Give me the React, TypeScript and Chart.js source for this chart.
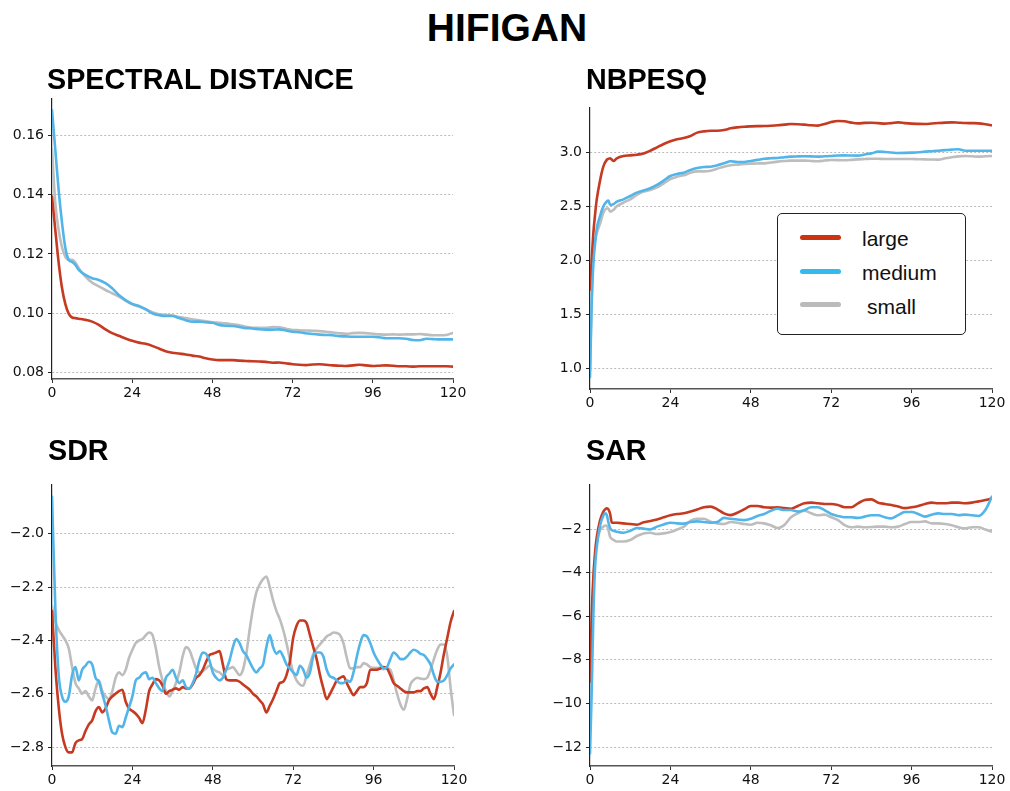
import React, { useEffect, useRef } from 'react';
import { Chart, registerables } from 'chart.js';

Chart.register(...registerables);

// ---------- data ----------
const SERIES = ['large', 'medium', 'small'];
const LINE_COLORS = ['#c53a20', '#52b5e9', '#bdbdbd'];
const LEGEND_COLORS = ['#cc3311', '#33bbee', '#bbbbbb'];
const DRAW_ORDER = [1, 0, 2];

const X_TICKS = [0, 24, 48, 72, 96, 120];
const X_LABELS = ['0', '24', '48', '72', '96', '120'];

// SPECTRAL DISTANCE
const specX = [0, 1, 2, 3, 4, 5, 6, 7, 8, 10, 12, 14, 16, 18, 20, 22, 24, 26, 28, 30, 32, 34, 36, 38, 40, 42, 44, 46, 48, 50, 52, 54, 56, 58, 60, 62, 64, 66, 68, 70, 72, 74, 76, 78, 80, 82, 84, 86, 88, 90, 92, 94, 96, 98, 100, 102, 104, 106, 108, 110, 112, 114, 116, 118, 120];
const specLarge = [0.1394, 0.128, 0.117, 0.1085, 0.103, 0.0998, 0.0985, 0.0983, 0.0981, 0.0977, 0.0971, 0.096, 0.0945, 0.0932, 0.0923, 0.0914, 0.0906, 0.09, 0.0896, 0.0889, 0.088, 0.0871, 0.0866, 0.0863, 0.086, 0.0856, 0.0853, 0.0847, 0.0843, 0.0841, 0.0841, 0.0841, 0.0839, 0.0838, 0.0837, 0.0836, 0.0835, 0.0832, 0.0833, 0.083, 0.0827, 0.0825, 0.0824, 0.0826, 0.0827, 0.0825, 0.0823, 0.0822, 0.0821, 0.0823, 0.0825, 0.0823, 0.0821, 0.0822, 0.0823, 0.0822, 0.082, 0.082, 0.0819, 0.082, 0.082, 0.082, 0.082, 0.082, 0.0819];
const specMedium = [0.1687, 0.155, 0.1415, 0.1305, 0.122, 0.118, 0.1173, 0.1163, 0.1146, 0.1129, 0.1118, 0.1112, 0.1101, 0.1084, 0.1061, 0.1044, 0.1031, 0.1024, 0.1013, 0.0999, 0.0993, 0.099, 0.099, 0.0983, 0.0976, 0.0971, 0.0971, 0.0969, 0.0967, 0.096, 0.0957, 0.0956, 0.0953, 0.0949, 0.0948, 0.0945, 0.0944, 0.0944, 0.0945, 0.0941, 0.0937, 0.0935, 0.0932, 0.0929, 0.0927, 0.0926, 0.0925, 0.0922, 0.0921, 0.092, 0.092, 0.092, 0.092, 0.0918, 0.0915, 0.0915, 0.0915, 0.0913, 0.0909, 0.0908, 0.0913, 0.0912, 0.0911, 0.0911, 0.0911];
const specSmall = [0.1555, 0.137, 0.128, 0.1222, 0.119, 0.118, 0.118, 0.1171, 0.1152, 0.1123, 0.1103, 0.109, 0.1078, 0.1067, 0.1056, 0.1042, 0.103, 0.1022, 0.1013, 0.1003, 0.0996, 0.0994, 0.0992, 0.0987, 0.0983, 0.0979, 0.0976, 0.0972, 0.0969, 0.0967, 0.0965, 0.0962, 0.0959, 0.0954, 0.095, 0.095, 0.095, 0.0953, 0.0952, 0.0947, 0.0943, 0.0942, 0.0941, 0.094, 0.0939, 0.0937, 0.0934, 0.0932, 0.093, 0.0932, 0.0933, 0.0932, 0.093, 0.0928, 0.0927, 0.0928, 0.0927, 0.0928, 0.0928, 0.0929, 0.0927, 0.0925, 0.0925, 0.0926, 0.0933];
const specTicks = [0.08, 0.1, 0.12, 0.14, 0.16];
const specLabels = ['0.08', '0.10', '0.12', '0.14', '0.16'];

// NBPESQ
const pesqX = [0, 0.5, 1, 1.5, 2, 3, 4, 5, 5.5, 6, 7, 8, 10, 12, 14, 16, 18, 20, 22, 24, 26, 28, 30, 32, 34, 36, 38, 40, 42, 44, 46, 48, 50, 52, 54, 56, 58, 60, 62, 64, 66, 68, 70, 72, 74, 76, 78, 80, 82, 84, 86, 88, 90, 92, 94, 96, 98, 100, 102, 104, 106, 108, 110, 112, 114, 116, 118, 120];
const pesqLarge = [1.73, 2.0, 2.25, 2.42, 2.56, 2.74, 2.87, 2.93, 2.94, 2.945, 2.92, 2.945, 2.966, 2.972, 2.978, 2.99, 3.015, 3.046, 3.077, 3.102, 3.12, 3.132, 3.151, 3.182, 3.194, 3.2, 3.2, 3.206, 3.222, 3.231, 3.237, 3.24, 3.242, 3.243, 3.246, 3.25, 3.256, 3.262, 3.26, 3.256, 3.25, 3.247, 3.262, 3.28, 3.29, 3.287, 3.275, 3.268, 3.272, 3.274, 3.27, 3.265, 3.27, 3.277, 3.27, 3.265, 3.263, 3.262, 3.266, 3.271, 3.275, 3.277, 3.274, 3.271, 3.27, 3.268, 3.26, 3.25];
const pesqMedium = [0.92, 1.6, 1.97, 2.15, 2.29, 2.41, 2.5, 2.545, 2.553, 2.513, 2.52, 2.544, 2.565, 2.596, 2.627, 2.646, 2.667, 2.698, 2.738, 2.781, 2.8, 2.812, 2.837, 2.855, 2.864, 2.867, 2.88, 2.898, 2.917, 2.911, 2.911, 2.92, 2.93, 2.941, 2.945, 2.948, 2.955, 2.96, 2.962, 2.963, 2.962, 2.96, 2.963, 2.966, 2.97, 2.972, 2.97, 2.969, 2.98, 2.99, 3.006, 3.003, 2.998, 2.994, 2.995, 2.997, 3.0, 3.006, 3.01, 3.015, 3.02, 3.025, 3.028, 3.015, 3.015, 3.015, 3.015, 3.015];
const pesqSmall = [0.98, 1.65, 2.05, 2.18, 2.25, 2.34, 2.44, 2.48, 2.48, 2.45, 2.467, 2.5, 2.535, 2.565, 2.606, 2.636, 2.652, 2.676, 2.713, 2.753, 2.775, 2.787, 2.812, 2.824, 2.824, 2.83, 2.849, 2.867, 2.88, 2.886, 2.892, 2.895, 2.897, 2.898, 2.905, 2.914, 2.92, 2.923, 2.923, 2.923, 2.92, 2.917, 2.924, 2.929, 2.928, 2.926, 2.93, 2.935, 2.938, 2.941, 2.94, 2.938, 2.938, 2.938, 2.938, 2.938, 2.936, 2.935, 2.933, 2.932, 2.945, 2.954, 2.962, 2.966, 2.963, 2.96, 2.963, 2.966];
const pesqTicks = [1.0, 1.5, 2.0, 2.5, 3.0];
const pesqLabels = ['1.0', '1.5', '2.0', '2.5', '3.0'];

// SDR
const sdrX = [0, 1, 2, 3, 4, 5, 6, 7, 8, 9, 10, 11, 12, 13, 14, 15, 16, 17, 18, 19, 20, 21, 22, 23, 24, 25, 26, 27, 28, 29, 30, 31, 32, 33, 34, 35, 36, 37, 38, 39, 40, 41, 42, 43, 44, 45, 46, 47, 48, 49, 50, 51, 52, 53, 54, 55, 56, 57, 58, 59, 60, 61, 62, 63, 64, 65, 66, 67, 68, 69, 70, 71, 72, 73, 74, 75, 76, 77, 78, 79, 80, 81, 82, 83, 84, 85, 86, 87, 88, 89, 90, 91, 92, 93, 94, 95, 96, 97, 98, 99, 100, 101, 102, 103, 104, 105, 106, 107, 108, 109, 110, 111, 112, 113, 114, 115, 116, 117, 118, 119, 120];
const sdrLarge = [
  -2.29, -2.5, -2.65, -2.75, -2.8, -2.82, -2.82, -2.785, -2.775, -2.77,
  -2.74, -2.715, -2.7, -2.665, -2.65, -2.67, -2.655, -2.625, -2.61, -2.6,
  -2.59, -2.585, -2.63, -2.655, -2.665, -2.675, -2.69, -2.71, -2.66, -2.59,
  -2.565, -2.545, -2.55, -2.57, -2.6, -2.59, -2.585, -2.58, -2.585, -2.575,
  -2.58, -2.58, -2.565, -2.54, -2.53, -2.51, -2.48, -2.455, -2.45, -2.445,
  -2.44, -2.49, -2.545, -2.55, -2.55, -2.55, -2.555, -2.565, -2.575, -2.585,
  -2.6, -2.61, -2.625, -2.64, -2.67, -2.645, -2.62, -2.59, -2.56, -2.555,
  -2.53, -2.48, -2.39, -2.345, -2.325, -2.325, -2.335, -2.38, -2.425, -2.47,
  -2.53, -2.58, -2.62, -2.6, -2.575, -2.55, -2.54, -2.535, -2.56, -2.585,
  -2.605, -2.59, -2.575, -2.575, -2.56, -2.51, -2.51, -2.51, -2.505, -2.5,
  -2.505, -2.53, -2.56, -2.57, -2.58, -2.59, -2.595, -2.595, -2.595, -2.59,
  -2.59, -2.58, -2.575, -2.6, -2.62, -2.575, -2.52, -2.45, -2.39, -2.33,
  -2.29];
const sdrMedium = [
  -1.86, -2.28, -2.53, -2.61, -2.63, -2.61, -2.53, -2.5, -2.55, -2.51,
  -2.495, -2.48, -2.49, -2.54, -2.555, -2.6, -2.645, -2.7, -2.745, -2.75,
  -2.72, -2.725, -2.69, -2.65, -2.61, -2.55, -2.54, -2.525, -2.52, -2.545,
  -2.54, -2.56, -2.58, -2.59, -2.54, -2.525, -2.51, -2.54, -2.56, -2.55,
  -2.575, -2.58, -2.56, -2.525, -2.475, -2.445, -2.45, -2.475, -2.52, -2.54,
  -2.55, -2.54, -2.51, -2.475, -2.425, -2.395, -2.41, -2.44, -2.455, -2.48,
  -2.505, -2.52, -2.505, -2.49, -2.425, -2.38, -2.425, -2.45, -2.44, -2.46,
  -2.49, -2.505, -2.52, -2.53, -2.495, -2.51, -2.54, -2.52, -2.46, -2.445,
  -2.445, -2.46, -2.51, -2.535, -2.54, -2.55, -2.56, -2.56, -2.55, -2.555,
  -2.52, -2.46, -2.41, -2.38, -2.385, -2.41, -2.445, -2.47, -2.49, -2.505,
  -2.5, -2.47, -2.445, -2.455, -2.47, -2.47, -2.46, -2.445, -2.435, -2.44,
  -2.45, -2.455, -2.47, -2.49, -2.53, -2.555, -2.555, -2.55, -2.53, -2.505,
  -2.49];
const sdrSmall = [
  -2.27, -2.33, -2.36, -2.38, -2.4, -2.43, -2.5, -2.56, -2.58, -2.6,
  -2.59, -2.61, -2.625, -2.58, -2.55, -2.59, -2.61, -2.62, -2.59, -2.54,
  -2.52, -2.53, -2.51, -2.465, -2.435, -2.41, -2.4, -2.395, -2.38, -2.37,
  -2.38, -2.43, -2.5, -2.55, -2.59, -2.61, -2.59, -2.56, -2.52, -2.46,
  -2.425, -2.435, -2.47, -2.505, -2.52, -2.515, -2.505, -2.495, -2.505, -2.515,
  -2.52, -2.53, -2.51, -2.505, -2.5, -2.515, -2.53, -2.51, -2.45, -2.36,
  -2.28, -2.22, -2.19, -2.17, -2.16, -2.2, -2.25, -2.29, -2.32, -2.36,
  -2.41, -2.47, -2.52, -2.55, -2.565, -2.57, -2.53, -2.49, -2.45, -2.43,
  -2.415, -2.4, -2.385, -2.378, -2.37, -2.372, -2.38, -2.41, -2.465, -2.505,
  -2.505, -2.5, -2.5, -2.485, -2.49, -2.5, -2.503, -2.503, -2.503, -2.508,
  -2.505, -2.51, -2.55, -2.6, -2.64, -2.66, -2.62, -2.565, -2.548, -2.54,
  -2.543, -2.545, -2.54, -2.51, -2.47, -2.435, -2.415, -2.415, -2.46, -2.58,
  -2.68];
const sdrTicks = [-2.8, -2.6, -2.4, -2.2, -2.0];
const sdrLabels = ['\u22122.8', '\u22122.6', '\u22122.4', '\u22122.2', '\u22122.0'];

// SAR
const sarX = [0, 0.5, 1, 1.5, 2, 3, 4, 4.5, 5, 5.5, 6, 6.5, 7, 8, 10, 12, 14, 16, 18, 20, 22, 24, 26, 28, 30, 32, 34, 36, 38, 40, 42, 44, 46, 48, 50, 52, 54, 56, 58, 60, 62, 64, 66, 68, 70, 72, 74, 76, 78, 80, 82, 84, 86, 88, 90, 92, 94, 96, 98, 100, 102, 104, 106, 108, 110, 112, 114, 116, 118, 120];
const sarLarge = [-9.0, -6.0, -4.2, -3.1, -2.4, -1.6, -1.2, -1.1, -1.05, -1.1, -1.3, -1.7, -1.71, -1.71,
  -1.74, -1.77, -1.8, -1.69, -1.63, -1.56, -1.46, -1.37, -1.31, -1.28,
  -1.2, -1.1, -1.0, -0.97, -1.1, -1.28, -1.36, -1.25, -1.1, -0.94,
  -0.94, -1.0, -1.02, -1.0, -1.04, -1.07, -0.94, -0.82, -0.79, -0.82,
  -0.85, -0.85, -0.9, -1.0, -1.0, -0.82, -0.67, -0.64, -0.79, -0.85,
  -0.9, -0.97, -1.04, -1.0, -0.94, -0.85, -0.79, -0.82, -0.82, -0.79,
  -0.79, -0.82, -0.79, -0.73, -0.67, -0.59];
const sarMedium = [-12.3, -9.5, -6.0, -3.8, -2.85, -1.85, -1.38, -1.28, -1.35, -1.7, -1.95, -2.05, -2.08, -2.12,
  -2.17, -2.08, -1.95, -1.98, -2.02, -1.89, -1.79, -1.71, -1.74, -1.75,
  -1.68, -1.65, -1.68, -1.71, -1.68, -1.49, -1.53, -1.56, -1.59, -1.53,
  -1.4, -1.31, -1.16, -1.07, -1.13, -1.13, -1.2, -1.13, -1.0, -1.0,
  -1.13, -1.31, -1.4, -1.46, -1.46, -1.49, -1.43, -1.37, -1.37, -1.46,
  -1.51, -1.36, -1.22, -1.22, -1.31, -1.43, -1.34, -1.28, -1.31, -1.31,
  -1.36, -1.34, -1.37, -1.4, -1.13, -0.51];
const sarSmall = [-10.5, -7.5, -4.5, -3.3, -2.66, -2.05, -1.89, -1.84, -1.85, -2.05, -2.35, -2.45, -2.5, -2.57,
  -2.57, -2.5, -2.32, -2.2, -2.17, -2.23, -2.2, -2.14, -2.02, -1.89,
  -1.62, -1.53, -1.53, -1.66, -1.74, -1.77, -1.68, -1.71, -1.77, -1.8,
  -1.71, -1.74, -1.83, -1.95, -1.82, -1.46, -1.28, -1.16, -1.28, -1.37,
  -1.34, -1.46, -1.59, -1.82, -1.92, -1.89, -1.92, -1.91, -1.89, -1.89,
  -1.92, -1.89, -1.77, -1.68, -1.68, -1.65, -1.74, -1.74, -1.77, -1.83,
  -1.92, -1.97, -1.92, -1.92, -2.02, -2.12];
const sarTicks = [-12, -10, -8, -6, -4, -2];
const sarLabels = ['\u221212', '\u221210', '\u22128', '\u22126', '\u22124', '\u22122'];

// ---------- layout ----------
type PanelDef = {
  title: string;
  xs: number[];
  series: number[][];
  yMin: number;
  yMax: number;
  yTicks: number[];
  yLabels: string[];
  canvas: { left: number; top: number; width: number; height: number };
  titlePos: { left: number; top: number };
  yAxisWidth: number;
  xAxisHeight: number;
  padRight: number;
};

const PANELS: PanelDef[] = [
  {
    title: 'SPECTRAL DISTANCE', xs: specX, series: [specLarge, specMedium, specSmall],
    yMin: 0.0777, yMax: 0.1724, yTicks: specTicks, yLabels: specLabels,
    canvas: { left: 0, top: 79, width: 480, height: 330 }, titlePos: { left: 47, top: 65.3 },
    yAxisWidth: 52, xAxisHeight: 30, padRight: 27,
  },
  {
    title: 'NBPESQ', xs: pesqX, series: [pesqLarge, pesqMedium, pesqSmall],
    yMin: 0.81, yMax: 3.41, yTicks: pesqTicks, yLabels: pesqLabels,
    canvas: { left: 538, top: 88, width: 472, height: 331 }, titlePos: { left: 586, top: 64.5 },
    yAxisWidth: 52, xAxisHeight: 30, padRight: 18,
  },
  {
    title: 'SDR', xs: sdrX, series: [sdrLarge, sdrMedium, sdrSmall],
    yMin: -2.871, yMax: -1.817, yTicks: sdrTicks, yLabels: sdrLabels,
    canvas: { left: 0, top: 465, width: 480, height: 326 }, titlePos: { left: 48, top: 436.2 },
    yAxisWidth: 52, xAxisHeight: 25, padRight: 26,
  },
  {
    title: 'SAR', xs: sarX, series: [sarLarge, sarMedium, sarSmall],
    yMin: -12.87, yMax: 0.02, yTicks: sarTicks, yLabels: sarLabels,
    canvas: { left: 538, top: 465, width: 472, height: 326 }, titlePos: { left: 586, top: 436.2 },
    yAxisWidth: 52, xAxisHeight: 25, padRight: 18,
  },
];

const TICK_FONT = { family: '"DejaVu Sans", sans-serif', size: 14 };
const TITLE_FONT = '"Liberation Sans", Arial, Helvetica, sans-serif';

function PanelChart({ p }: { p: PanelDef }) {
  const ref = useRef<HTMLCanvasElement>(null);
  useEffect(() => {
    const canvas = ref.current;
    if (!canvas) return;
    const chart = new Chart(canvas, {
      type: 'line',
      data: {
        datasets: SERIES.map((name, i) => ({
          label: name,
          data: p.xs.map((x, j) => ({ x, y: p.series[i][j] })),
          borderColor: LINE_COLORS[i],
          backgroundColor: LINE_COLORS[i],
          borderWidth: 2.6,
          pointRadius: 0,
          pointHoverRadius: 0,
          cubicInterpolationMode: 'monotone' as const,
          borderJoinStyle: 'round' as const,
          borderCapStyle: 'round' as const,
          fill: false,
          order: DRAW_ORDER[i],
        })),
      },
      options: {
        responsive: false,
        maintainAspectRatio: false,
        animation: false,
        devicePixelRatio: 1,
        events: [],
        layout: { padding: { left: 0, right: p.padRight, top: 20, bottom: 0 } },
        plugins: {
          legend: { display: false },
          tooltip: { enabled: false },
          title: { display: false },
        },
        scales: {
          x: {
            type: 'linear',
            min: 0,
            max: 120,
            bounds: 'data',
            afterBuildTicks: (s: any) => {
              s.ticks = X_TICKS.map((v) => ({ value: v }));
            },
            afterFit: (s: any) => {
              s.height = p.xAxisHeight;
            },
            ticks: {
              autoSkip: false,
              maxRotation: 0,
              minRotation: 0,
              padding: 2,
              color: '#111',
              font: TICK_FONT,
              callback: (_v: any, i: number) => X_LABELS[i],
            },
            grid: {
              display: true,
              drawOnChartArea: false,
              drawTicks: true,
              tickLength: 4,
              tickColor: '#333',
              tickWidth: 1,
            },
            border: { display: true, color: '#555', width: 1.4 },
          },
          y: {
            type: 'linear',
            min: p.yMin,
            max: p.yMax,
            bounds: 'data',
            afterBuildTicks: (s: any) => {
              s.ticks = p.yTicks.map((v) => ({ value: v }));
            },
            afterFit: (s: any) => {
              s.width = p.yAxisWidth;
            },
            ticks: {
              autoSkip: false,
              padding: 4,
              color: '#111',
              font: TICK_FONT,
              callback: (_v: any, i: number) => p.yLabels[i],
            },
            grid: {
              display: true,
              drawOnChartArea: true,
              color: '#b3b3b3',
              lineWidth: 0.9,
              drawTicks: true,
              tickLength: 4,
              tickColor: '#222',
              tickWidth: 1,
              tickBorderDash: [],
            },
            border: { display: true, color: '#222', width: 1.2, dash: [2, 2] },
          },
        },
      } as any,
    });
    return () => chart.destroy();
  }, [p]);
  return (
    <canvas
      ref={ref}
      width={p.canvas.width}
      height={p.canvas.height}
      style={{
        position: 'absolute',
        left: p.canvas.left,
        top: p.canvas.top,
        width: p.canvas.width,
        height: p.canvas.height,
      }}
    />
  );
}

const LEGEND_BOX = { left: 777, top: 213, width: 189, height: 122 };
const LEGEND_SAMPLE_TOPS = [234.8, 268.5, 301.8];
const LEGEND_TEXT_TOPS = [227.9, 262.2, 295.5];
const LEGEND_TEXT_LEFTS = [862, 862, 867];

export default function App() {
  return (
    <div
      style={{
        position: 'absolute',
        left: 0,
        top: 0,
        width: 1010,
        height: 791,
        overflow: 'hidden',
        background: '#ffffff',
      }}
    >
      <div
        style={{
          position: 'absolute',
          left: 306,
          top: 7.5,
          width: 402,
          textAlign: 'center',
          fontFamily: TITLE_FONT,
          fontWeight: 'bold',
          fontSize: 39,
          lineHeight: '39px',
          color: '#000',
          whiteSpace: 'nowrap',
        }}
      >
        HIFIGAN
      </div>
      {PANELS.map((p) => (
        <React.Fragment key={p.title}>
          <PanelChart p={p} />
          <div
            style={{
              position: 'absolute',
              left: p.titlePos.left,
              top: p.titlePos.top,
              fontFamily: TITLE_FONT,
              fontWeight: 'bold',
              fontSize: 28.7,
              lineHeight: '28.7px',
              color: '#000',
              whiteSpace: 'nowrap',
            }}
          >
            {p.title}
          </div>
        </React.Fragment>
      ))}
      <div
        style={{
          position: 'absolute',
          left: LEGEND_BOX.left,
          top: LEGEND_BOX.top,
          width: LEGEND_BOX.width,
          height: LEGEND_BOX.height,
          boxSizing: 'border-box',
          border: '1px solid #222',
          borderRadius: 5,
          background: '#ffffff',
        }}
      />
      {SERIES.map((name, i) => (
        <React.Fragment key={name}>
          <div
            style={{
              position: 'absolute',
              left: 800,
              top: LEGEND_SAMPLE_TOPS[i],
              width: 41,
              height: 5,
              borderRadius: 2.5,
              background: LEGEND_COLORS[i],
            }}
          />
          <div
            style={{
              position: 'absolute',
              left: LEGEND_TEXT_LEFTS[i],
              top: LEGEND_TEXT_TOPS[i],
              fontFamily: TITLE_FONT,
              fontSize: 21,
              lineHeight: '21px',
              color: '#111',
              whiteSpace: 'nowrap',
            }}
          >
            {name}
          </div>
        </React.Fragment>
      ))}
    </div>
  );
}
